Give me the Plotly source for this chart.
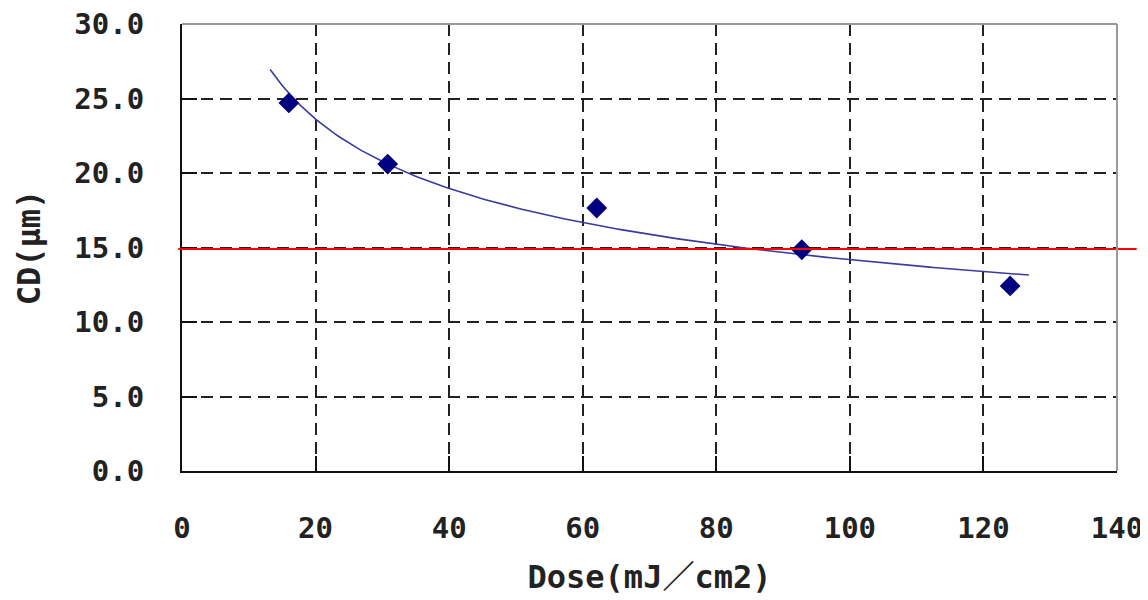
import numpy as np
import plotly.graph_objects as go

dose = [16.0, 30.8, 62.1, 92.8, 124.0]
cd = [24.7, 20.6, 17.65, 14.85, 12.42]
target_cd = 14.9
x_ticks = [0, 20, 40, 60, 80, 100, 120, 140]
y_ticks = [0, 5, 10, 15, 20, 25, 30]
forecast = 2.8

# power trendline fitted to the data (as Excel's power trendline)
b, ln_a = np.polyfit(np.log(dose), np.log(cd), 1)
tx = np.linspace(min(dose) - forecast, max(dose) + forecast, 200)
ty = np.exp(ln_a) * tx ** b

font_fam = "DejaVu Sans Mono, Noto Sans CJK JP, sans-serif"
tick_font = dict(size=29, family=font_fam, color="#222222", weight="bold")
title_font = dict(size=32, family=font_fam, color="#222222", weight="bold")

fig = go.Figure()
fig.add_trace(go.Scatter(x=tx, y=ty, mode="lines",
                         line=dict(color="#3a3aa0", width=1.6),
                         hoverinfo="skip", showlegend=False))
fig.add_trace(go.Scatter(x=dose, y=cd, mode="markers",
                         marker=dict(symbol="diamond", size=16, color="#000080"),
                         showlegend=False))

# target line (extends slightly beyond the plot area)
fig.add_shape(type="line", xref="paper", yref="y", x0=-0.004, x1=1.021,
              y0=target_cd, y1=target_cd, line=dict(color="#ff0000", width=2),
              layer="above")
# gray top/right border
fig.add_shape(type="line", xref="paper", yref="paper", x0=0, x1=1, y0=1, y1=1,
              line=dict(color="#999999", width=2))
fig.add_shape(type="line", xref="paper", yref="paper", x0=1, x1=1, y0=0, y1=1,
              line=dict(color="#999999", width=2))

fig.update_layout(
    width=1148, height=600,
    margin=dict(l=174, r=39, t=16, b=137),
    paper_bgcolor="white", plot_bgcolor="white",
    font=dict(family=font_fam, color="#222222"),
    xaxis=dict(range=[0, 140], tickvals=x_ticks, ticktext=[str(v) for v in x_ticks],
               showgrid=True, gridcolor="#222222", gridwidth=2, griddash="12px,7px",
               showline=True, linecolor="#111111", linewidth=2,
               ticks="inside", ticklen=15, tickwidth=2, tickcolor="#111111",
               tickfont=tick_font, ticklabelstandoff=30, ticklabeloverflow="allow",
               zeroline=False, automargin=False,
               title=dict(text="Dose(mJ／cm2)", standoff=22, font=title_font)),
    yaxis=dict(range=[0, 30], tickvals=y_ticks, ticktext=[f"{v:.1f}" for v in y_ticks],
               showgrid=True, gridcolor="#222222", gridwidth=2, griddash="12px,7px",
               showline=True, linecolor="#111111", linewidth=2,
               ticks="inside", ticklen=15, tickwidth=2, tickcolor="#111111",
               tickfont=tick_font, ticklabelstandoff=30, ticklabeloverflow="allow",
               zeroline=False, automargin=False,
               title=dict(text="CD(μm)", standoff=24, font=title_font)),
)

fig.write_html("out.html")
